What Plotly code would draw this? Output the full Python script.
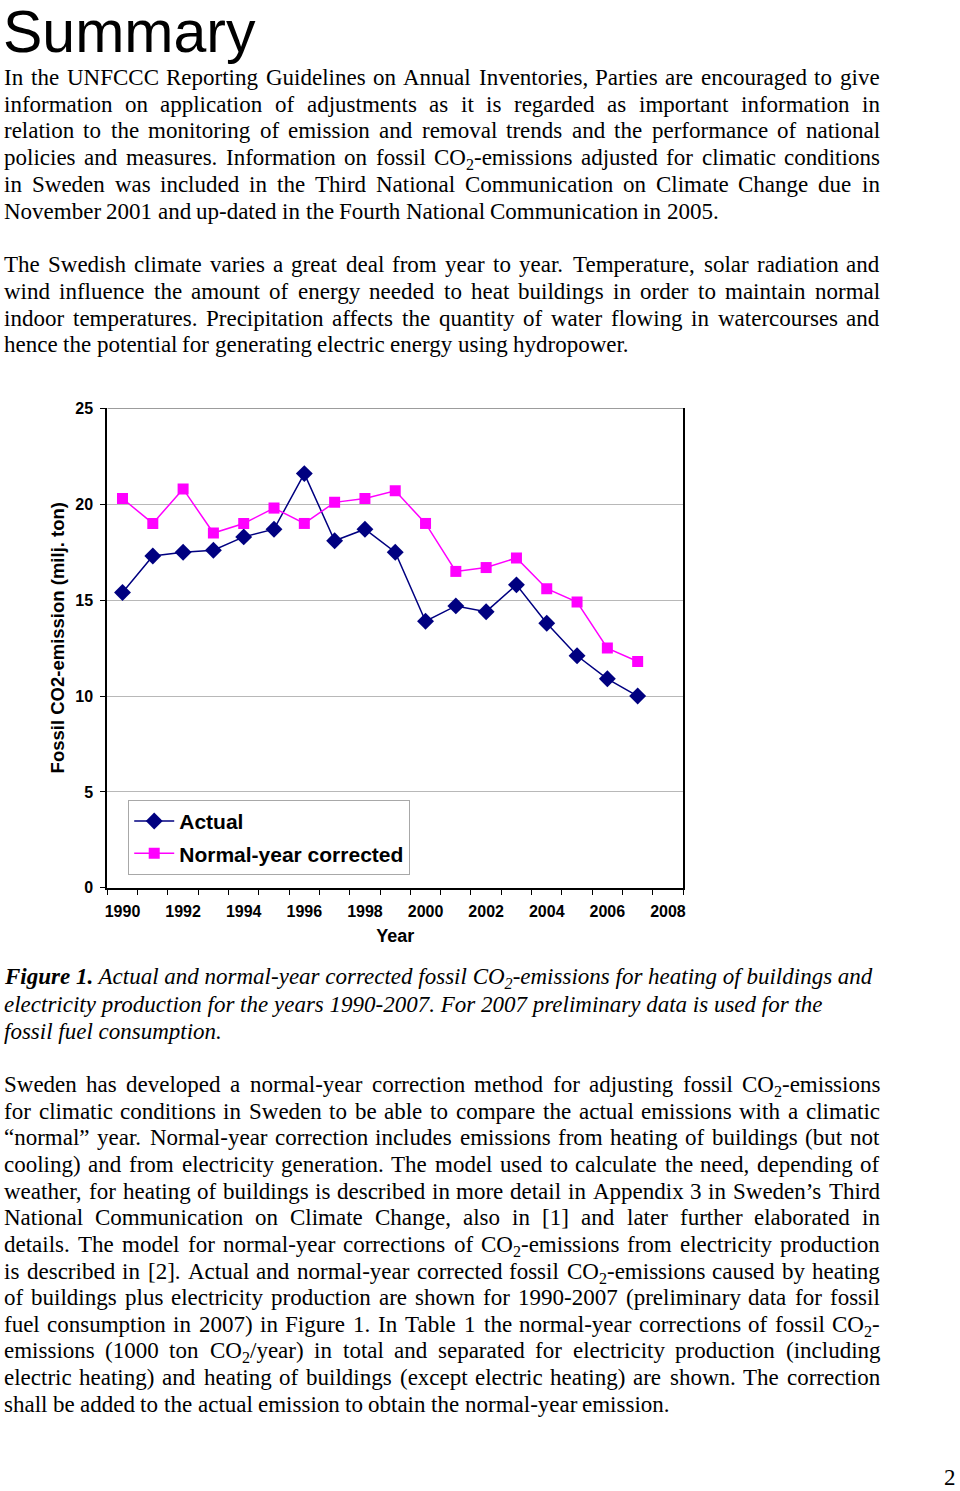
import re
import plotly.graph_objects as go

# ---------------- data ----------------
years = list(range(1990, 2008))
actual = [15.4, 17.3, 17.5, 17.6, 18.3, 18.7, 21.6, 18.1, 18.7, 17.5,
          13.9, 14.7, 14.4, 15.8, 13.8, 12.1, 10.9, 10.0]
normal_year = [20.3, 19.0, 20.8, 18.5, 19.0, 19.8, 19.0, 20.1, 20.3, 20.7,
               19.0, 16.5, 16.7, 17.2, 15.6, 14.9, 12.5, 11.8]
x_tick_years = list(range(1990, 2009, 2))
x_tick_labels = [str(y) for y in x_tick_years]
y_tick_vals = [0, 5, 10, 15, 20, 25]
series_names = ["Actual", "Normal-year corrected"]
x_title = "Year"
y_title = "Fossil CO2-emission (milj. ton)"

title_text = "Summary"
para1 = [
    "In the UNFCCC Reporting Guidelines on Annual Inventories, Parties are encouraged to give",
    "information on application of adjustments as it is regarded as important information in",
    "relation to the monitoring of emission and removal trends and the performance of national",
    "policies and measures. Information on fossil CO<sub>2</sub>-emissions adjusted for climatic conditions",
    "in Sweden was included in the Third National Communication on Climate Change due in",
    "November 2001 and up-dated in the Fourth National Communication in 2005.",
]
para2 = [
    "The Swedish climate varies a great deal from year to year. Temperature, solar radiation and",
    "wind influence the amount of energy needed to heat buildings in order to maintain normal",
    "indoor temperatures. Precipitation affects the quantity of water flowing in watercourses and",
    "hence the potential for generating electric energy using hydropower.",
]
caption = [
    "<b>Figure 1.</b> Actual and normal-year corrected fossil CO<sub>2</sub>-emissions for heating of buildings and",
    "electricity production for the years 1990-2007. For 2007 preliminary data is used for the",
    "fossil fuel consumption.",
]
para3 = [
    "Sweden has developed a normal-year correction method for adjusting fossil CO<sub>2</sub>-emissions",
    "for climatic conditions in Sweden to be able to compare the actual emissions with a climatic",
    "\u201cnormal\u201d year. Normal-year correction includes emissions from heating of buildings (but not",
    "cooling) and from electricity generation. The model used to calculate the need, depending of",
    "weather, for heating of buildings is described in more detail in Appendix 3 in Sweden\u2019s Third",
    "National Communication on Climate Change, also in [1] and later further elaborated in",
    "details. The model for normal-year corrections of CO<sub>2</sub>-emissions from electricity production",
    "is described in [2]. Actual and normal-year corrected fossil CO<sub>2</sub>-emissions caused by heating",
    "of buildings plus electricity production are shown for 1990-2007 (preliminary data for fossil",
    "fuel consumption in 2007) in Figure 1. In Table 1 the normal-year corrections of fossil CO<sub>2</sub>-",
    "emissions (1000 ton CO<sub>2</sub>/year) in total and separated for electricity production (including",
    "electric heating) and heating of buildings (except electric heating) are shown. The correction",
    "shall be added to the actual emission to obtain the normal-year emission.",
]
page_number = "2"

# ---------------- layout helpers ----------------
W, H = 960, 1491
SERIF = "Liberation Serif, Times New Roman, serif"
SANS = "Liberation Sans, Arial, sans-serif"

TW = {' ': 250, '!': 333, ',': 250, '-': 333, '.': 250, '/': 278, ':': 278, ';': 278,
      '(': 333, ')': 333, '[': 333, ']': 333, '\u201c': 444, '\u201d': 444, '\u2019': 333,
      'A': 722, 'B': 667, 'C': 667, 'D': 722, 'E': 611, 'F': 556, 'G': 722, 'H': 722,
      'I': 333, 'J': 389, 'K': 722, 'L': 611, 'M': 889, 'N': 722, 'O': 722, 'P': 556,
      'Q': 722, 'R': 667, 'S': 556, 'T': 611, 'U': 722, 'V': 722, 'W': 944, 'X': 722,
      'Y': 722, 'Z': 611,
      'a': 444, 'b': 500, 'c': 444, 'd': 500, 'e': 444, 'f': 333, 'g': 500, 'h': 500,
      'i': 278, 'j': 278, 'k': 500, 'l': 278, 'm': 778, 'n': 500, 'o': 500, 'p': 500,
      'q': 500, 'r': 333, 's': 389, 't': 278, 'u': 500, 'v': 500, 'w': 722, 'x': 500,
      'y': 500, 'z': 444}
for d in "0123456789":
    TW[d] = 500


def seg_w(s, fs):
    return sum(TW.get(ch, 500) for ch in s) / 1000.0 * fs


def word_w(word, fs):
    tot = 0.0
    for p in re.split(r'(<sub>.*?</sub>)', word):
        if p.startswith('<sub>'):
            tot += seg_w(p[5:-6], fs * 0.7)
        else:
            tot += seg_w(p, fs)
    return tot


annotations = []
BODY_FS = 23
ASC = 0.891          # ascent of the serif face (em)
LEFT, RIGHT = 1, 882


def px(x):
    return x / W


def py(y):
    return 1 - y / H


def add_paragraph(lines, first, last, fs=BODY_FS):
    n = len(lines)
    step = (last - first) / (n - 1)
    for i, line in enumerate(lines):
        bl = first + step * i
        words = line.split(' ')
        widths = [word_w(w, fs) for w in words]
        if i == n - 1 or len(words) < 2:
            gap = TW[' '] / 1000.0 * fs
        else:
            gap = (RIGHT - LEFT - sum(widths)) / (len(words) - 1)
        x = LEFT
        for w, wd in zip(words, widths):
            annotations.append(dict(
                text=w, x=px(x), y=py(bl - ASC * fs), xref="paper", yref="paper",
                xanchor="left", yanchor="top", showarrow=False,
                borderpad=0, borderwidth=0,
                font=dict(family=SERIF, size=fs, color="black")))
            x += wd + gap


add_paragraph(para1, 78, 213.5)
add_paragraph(para2, 267.5, 348.4)
add_paragraph(para3, 1097, 1420)

CAP_FS = 23
cap_first, cap_last = 988, 1043.6
for i, line in enumerate(caption):
    bl = cap_first + (cap_last - cap_first) / 2 * i
    annotations.append(dict(
        text="<i>" + line + "</i>", x=px(LEFT), y=py(bl - ASC * CAP_FS), xref="paper", yref="paper",
        xanchor="left", yanchor="top", showarrow=False, borderpad=0, borderwidth=0,
        align="left", font=dict(family=SERIF, size=CAP_FS, color="black")))

TITLE_FS = 59
annotations.append(dict(
    text=title_text, x=px(0), y=py(44 - 0.905 * TITLE_FS), xref="paper", yref="paper",
    xanchor="left", yanchor="top", showarrow=False, borderpad=0, borderwidth=0,
    font=dict(family=SANS, size=TITLE_FS, color="black")))

annotations.append(dict(
    text=page_number, x=px(947), y=py(1494 - ASC * BODY_FS), xref="paper", yref="paper",
    xanchor="left", yanchor="top", showarrow=False, borderpad=0, borderwidth=0,
    font=dict(family=SERIF, size=BODY_FS, color="black")))

# y-axis title (rotated text, centred where the reference has it)
annotations.append(dict(
    text=y_title, x=px(55), y=py(637), xref="paper", yref="paper",
    xanchor="center", yanchor="middle", textangle=-90, showarrow=False,
    borderpad=0, borderwidth=0,
    font=dict(family=SANS, size=18.5, color="black", weight="bold")))

# ---------------- figure ----------------
fig = go.Figure()
fig.add_trace(go.Scatter(
    x=years, y=actual, mode="lines+markers", name=series_names[0],
    legendgroup="a",
    line=dict(color="#000080", width=1.5),
    marker=dict(symbol="diamond", size=13, color="#000080")))
fig.add_trace(go.Scatter(
    x=years, y=normal_year, mode="lines+markers", name=series_names[1],
    legendgroup="b",
    line=dict(color="#FF00FF", width=1.5),
    marker=dict(symbol="square", size=11, color="#FF00FF")))

x0, x1 = 105.0, 684.4
y_bottom, y_top = 890, 405

fig.update_layout(
    width=W, height=H,
    margin=dict(l=0, r=0, t=0, b=0),
    paper_bgcolor="white", plot_bgcolor="white",
    showlegend=True,
    legend=dict(
        x=px(126), y=py(801), xanchor="left", yanchor="top",
        bgcolor="white", bordercolor="#a8a8a8", borderwidth=1,
        font=dict(family=SANS, size=21, color="black", weight="bold"),
        traceorder="grouped", tracegroupgap=2, itemwidth=40),
    xaxis=dict(
        domain=[px(x0), px(x1)], range=[1989.5, 2008.5],
        tickmode="array", tickvals=x_tick_years, ticktext=x_tick_labels,
        ticks="", showgrid=False, zeroline=False,
        showline=True, linecolor="black", linewidth=2, mirror=False,
        minor=dict(tickmode="array", tickvals=[1989.5 + i for i in range(20)],
                   ticks="outside", ticklen=5, tickcolor="black", tickwidth=1, showgrid=False),
        tickfont=dict(family=SANS, size=16, color="black", weight="bold"),
        ticklabelstandoff=8,
        title=dict(text=x_title, standoff=10,
                   font=dict(family=SANS, size=18, color="black", weight="bold"))),
    yaxis=dict(
        domain=[py(y_bottom), py(y_top)], range=[0, 25],
        tickmode="array", tickvals=y_tick_vals,
        ticks="outside", ticklen=5, tickcolor="black",
        showgrid=True, gridcolor="#b8b8b8", gridwidth=1, zeroline=False,
        showline=True, linecolor="black", linewidth=2, mirror=True,
        tickfont=dict(family=SANS, size=16, color="black", weight="bold"),
        ticklabelstandoff=4),
    shapes=[dict(type="line", xref="x", yref="y", x0=1989.5, x1=2008.5, y0=25, y1=25,
                 line=dict(color="#3a3a3a", width=1.2), layer="above")],
    annotations=annotations,
)

fig.write_html("out.html", config={"displayModeBar": False},
               post_script="document.body.style.margin='0';")
